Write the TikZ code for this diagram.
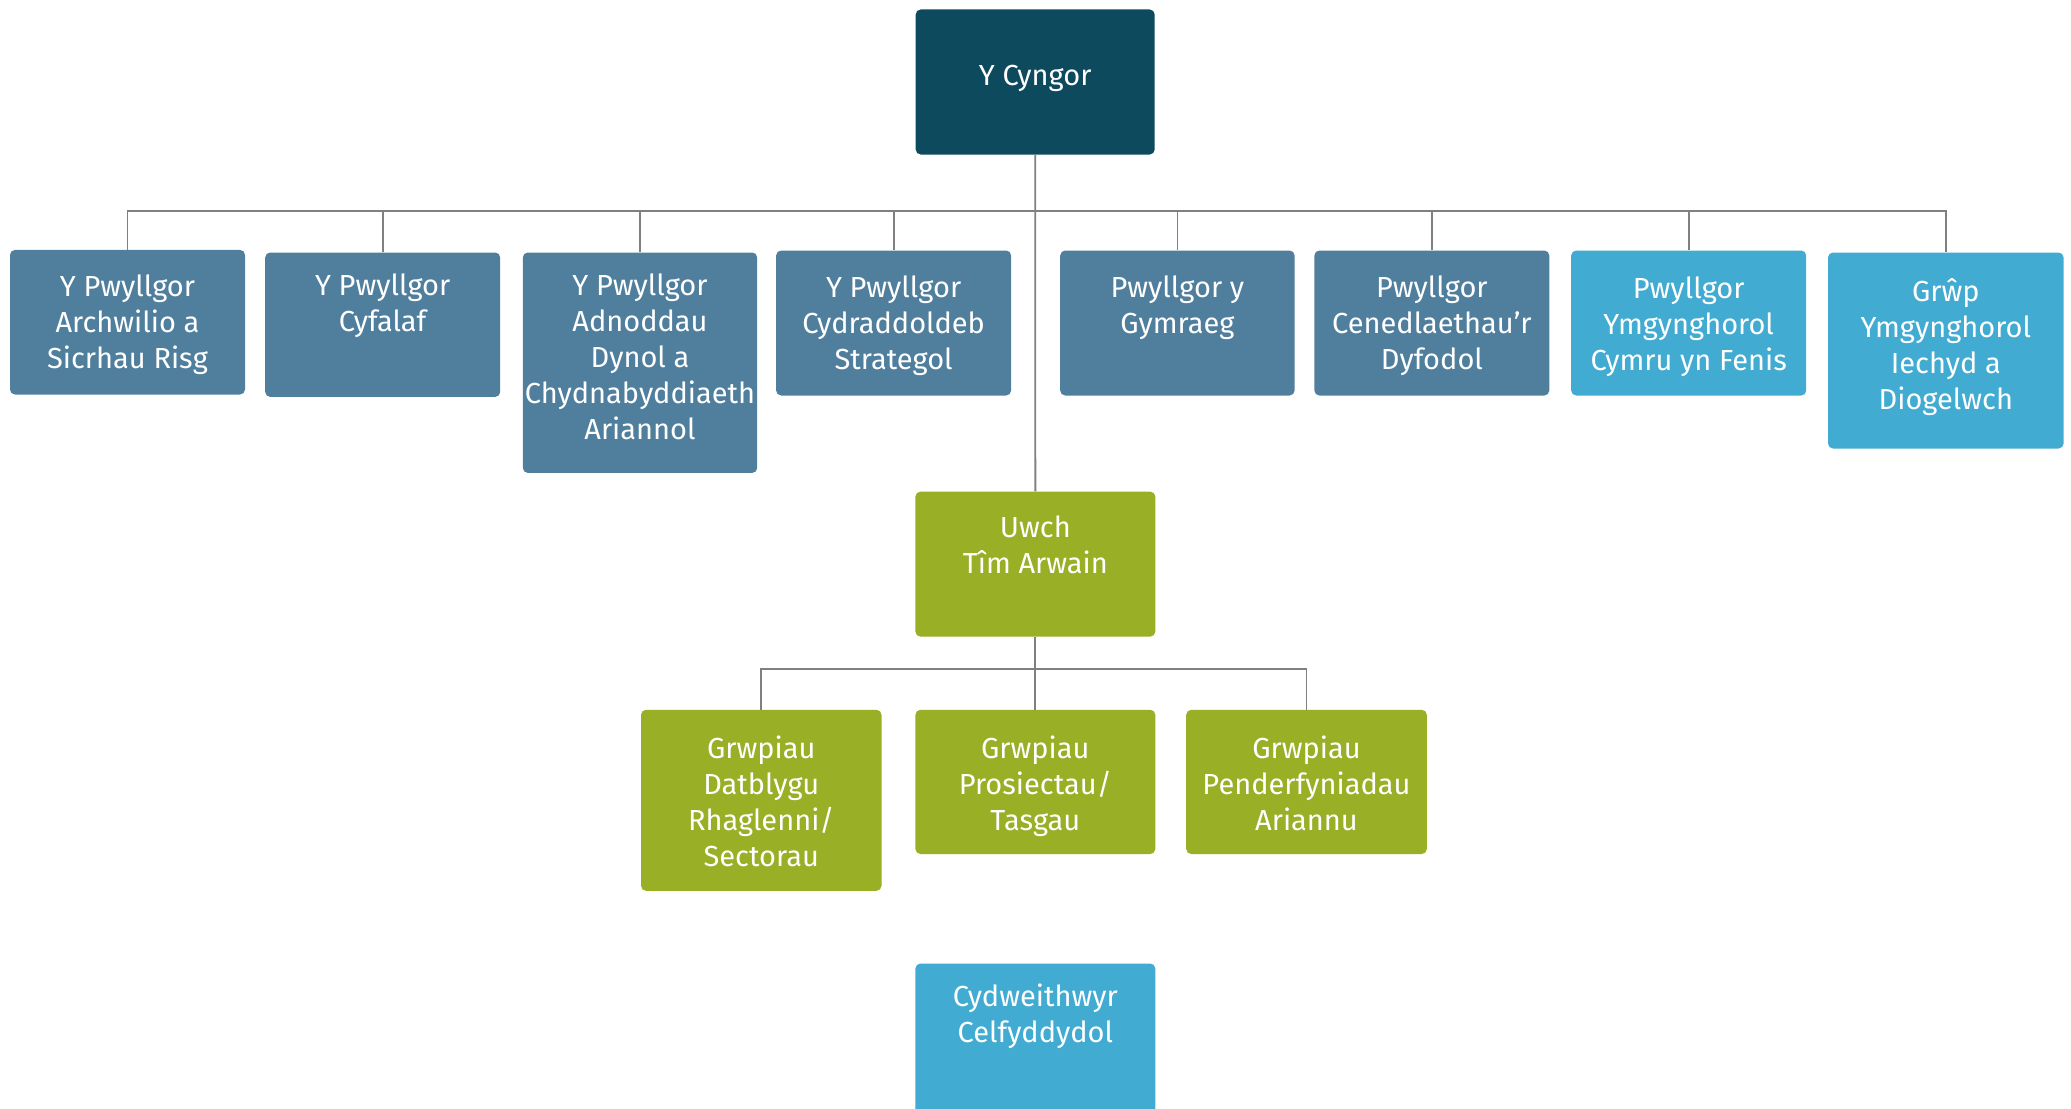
\documentclass[tikz,border=0pt]{standalone}
\usepackage{fontspec}
\setmainfont{Fira Sans}
\usetikzlibrary{calc}
\definecolor{cdark}{HTML}{0E4A5E}
\definecolor{csteel}{HTML}{507F9E}
\definecolor{clight}{HTML}{42ABD1}
\definecolor{cgreen}{HTML}{98AF26}
\definecolor{cline}{HTML}{808080}
\newcommand\fl{\rule{0pt}{25pt}}
\begin{document}
\begin{tikzpicture}[x=1pt,y=-1pt,
  box/.style={rectangle, rounded corners=5pt, draw=none, inner sep=0pt, anchor=north west},
  lbl/.style={anchor=north, align=center, text=white, inner sep=0pt,
    font=\fontsize{29}{36}\selectfont},
  conn/.style={draw=cline, line width=1.8pt}]
\useasboundingbox (0,0) rectangle (2071,1108);
% boxes: minimum width/height from measured extents
\node[box, fill=cdark, minimum width=239pt, minimum height=145pt] (cyngor) at (915.5,9.3) {};
\node[box, fill=csteel, minimum width=235pt, minimum height=144.6pt] (b1) at (9.8,249.7) {};
\node[box, fill=csteel, minimum width=235pt, minimum height=144.4pt] (b2) at (265,252.3) {};
\node[box, fill=csteel, minimum width=234.4pt, minimum height=220.4pt] (b3) at (522.6,252.3) {};
\node[box, fill=csteel, minimum width=235pt, minimum height=145pt] (b4) at (775.9,250.3) {};
\node[box, fill=csteel, minimum width=234.4pt, minimum height=145pt] (b5) at (1060,250.3) {};
\node[box, fill=csteel, minimum width=234.9pt, minimum height=145pt] (b6) at (1314.2,250.3) {};
\node[box, fill=clight, minimum width=235pt, minimum height=145pt] (b7) at (1571,250.3) {};
\node[box, fill=clight, minimum width=235.6pt, minimum height=196pt] (b8) at (1827.8,252.3) {};
\node[box, fill=cgreen, minimum width=239.9pt, minimum height=145pt] (uwch) at (915.2,491.4) {};
\node[box, fill=cgreen, minimum width=240.5pt, minimum height=181pt] (g1) at (640.8,709.6) {};
\node[box, fill=cgreen, minimum width=239.9pt, minimum height=144.2pt] (g2) at (915.2,709.6) {};
\node[box, fill=cgreen, minimum width=240.6pt, minimum height=144.2pt] (g3) at (1186,709.6) {};
\node[box, fill=clight, minimum width=239.9pt, minimum height=170pt] (cyd) at (915.2,963.3) {};
% texts
\node[lbl, anchor=base] (tcyngor) at ($(cyngor.north)+(0,75.7)$) {Y Cyngor};
\node[lbl] (t1) at ($(b1.north)+(0,22)$) {\fl Y Pwyllgor\\Archwilio a\\Sicrhau Risg};
\node[lbl] (t2) at ($(b2.north)+(0,18)$) {\fl Y Pwyllgor\\Cyfalaf};
\node[lbl] (t3) at ($(b3.north)+(0,18)$) {\fl Y Pwyllgor\\Adnoddau\\Dynol a\\Chydnabyddiaeth\\Ariannol};
\node[lbl] (t4) at ($(b4.north)+(0,22)$) {\fl Y Pwyllgor\\Cydraddoldeb\\Strategol};
\node[lbl] (t5) at ($(b5.north)+(0,22)$) {\fl Pwyllgor y\\Gymraeg};
\node[lbl] (t6) at ($(b6.north)+(0,22)$) {\fl Pwyllgor\\Cenedlaethau’r\\Dyfodol};
\node[lbl] (t7) at ($(b7.north)+(0,23)$) {\fl Pwyllgor\\Ymgynghorol\\Cymru yn Fenis};
\node[lbl] (t8) at ($(b8.north)+(0,24)$) {\fl Grŵp\\Ymgynghorol\\Iechyd a\\Diogelwch};
\node[lbl] (tuwch) at ($(uwch.north)+(0,21)$) {\fl Uwch\\Tîm Arwain};
\node[lbl] (tg1) at ($(g1.north)+(0,24)$) {\fl Grwpiau\\Datblygu\\Rhaglenni/\\Sectorau};
\node[lbl] (tg2) at ($(g2.north)+(0,24)$) {\fl Grwpiau\\Prosiectau/\\Tasgau};
\node[lbl] (tg3) at ($(g3.north)+(0,24)$) {\fl Grwpiau\\Penderfyniadau\\Ariannu};
\node[lbl] (tcyd) at ($(cyd.north)+(0,18)$) {\fl Cydweithwyr\\Celfyddydol};
% connectors
\coordinate (bus) at (0,211.3);
\coordinate (bus2) at (0,668.7);
\draw[conn] (cyngor.south) -- (uwch.north);
\draw[conn] (b1.north) -- (b1.north |- bus) -- (b8.north |- bus) -- (b8.north);
\foreach \b in {b2,b3,b4,b5,b6,b7}
  \draw[conn] (\b.north) -- (\b.north |- bus);
\draw[conn] (uwch.south) -- (g2.north);
\draw[conn] (g1.north) -- (g1.north |- bus2) -- (g3.north |- bus2) -- (g3.north);
\end{tikzpicture}
\end{document}
